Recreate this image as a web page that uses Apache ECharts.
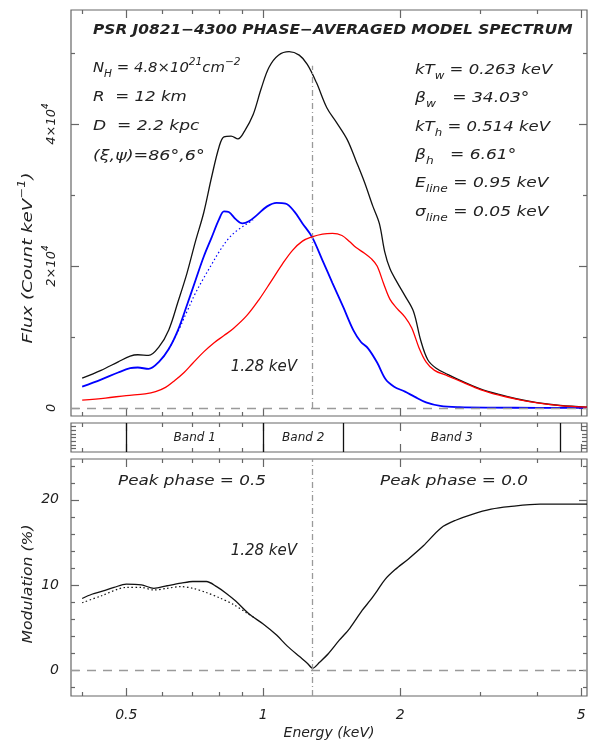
<!DOCTYPE html>
<html>
<head>
<meta charset="utf-8">
<script src="https://cdn.jsdelivr.net/npm/echarts@6/dist/echarts.min.js"></script>
<style>
  html, body { margin: 0; padding: 0; background: #fff; }
  #chart { width: 592px; height: 744px; }
</style>
</head>
<body>
<div id="chart"></div>
<script>
// ---- Model spectrum (counts keV^-1) ----
const totalEnergy = [0.40,0.44,0.48,0.51,0.53,0.56,0.59,0.62,0.65,0.68,0.71,0.74,0.77,0.80,0.82,0.85,0.88,0.91,0.95,0.99,1.03,1.08,1.14,1.20,1.25,1.31,1.38,1.45,1.53,1.60,1.67,1.74,1.80,1.85,1.90,1.97,2.05,2.14,2.22,2.30,2.40,2.55,2.75,3.0,3.3,3.6,4.0,4.5,5.15];
const totalFlux   = [4200,5300,6500,7300,7500,7400,8600,11000,15000,19000,23500,27500,32500,36800,38200,38300,37900,39000,41300,45000,48000,49700,50200,49700,48400,45800,42300,40200,37800,34800,31800,28500,26000,22000,19600,17700,15800,13600,9500,6800,5600,4700,3700,2700,1900,1300,750,350,120];

// warm cap, with the 0.95 keV line
const warmEnergy = [0.40,0.44,0.48,0.51,0.53,0.56,0.59,0.62,0.65,0.68,0.71,0.74,0.77,0.80,0.82,0.84,0.87,0.90,0.93,0.97,1.02,1.07,1.12,1.17,1.22,1.28,1.35,1.42,1.50,1.58,1.64,1.70,1.78,1.86,1.94,2.05,2.15,2.28,2.45,2.7,3.2,4.0,5.15];
const warmFlux   = [3000,4000,5000,5600,5700,5500,6500,8300,11000,14500,18000,21300,24000,26600,27700,27600,26600,26000,26300,27200,28400,28900,28800,27700,26000,24100,20800,17600,14200,10900,9300,8400,6400,4000,3000,2300,1600,800,300,120,50,20,10];

// warm cap, continuum only
const warmContEnergy = [0.62,0.65,0.68,0.71,0.74,0.77,0.80,0.84,0.88,0.92,0.95];
const warmContFlux   = [8300,10800,13600,16200,18300,20200,22000,23900,25100,25900,26500];

// hot cap
const hotEnergy = [0.40,0.45,0.50,0.55,0.58,0.61,0.64,0.67,0.70,0.74,0.78,0.82,0.86,0.92,0.98,1.04,1.10,1.16,1.22,1.28,1.35,1.42,1.49,1.55,1.60,1.67,1.73,1.78,1.84,1.90,1.97,2.05,2.12,2.20,2.28,2.38,2.55,2.75,3.0,3.3,3.6,4.0,4.5,5.15];
const hotFlux   = [1100,1400,1750,2000,2300,2900,3900,5000,6300,7900,9200,10200,11200,13000,15300,17800,20200,22200,23500,24100,24500,24600,24300,23400,22600,21800,21000,20000,17500,15300,14000,12800,11300,8500,6500,5300,4500,3600,2600,1800,1250,720,340,110];

// ---- Pulsed modulation (%) ----
const modEnergy = [0.40,0.42,0.445,0.47,0.50,0.54,0.575,0.615,0.66,0.70,0.75,0.79,0.83,0.87,0.93,1.0,1.07,1.13,1.20,1.25,1.285,1.33,1.39,1.47,1.55,1.65,1.72,1.78,1.85,1.95,2.08,2.25,2.46,2.65,2.88,3.17,3.47,4.06,4.6,5.15];
const modValue  = [8.4,8.9,9.3,9.7,10.1,10.0,9.6,9.9,10.2,10.4,10.4,9.8,9.0,8.1,6.6,5.4,4.1,2.8,1.6,0.8,0.2,0.9,1.9,3.5,4.9,7.0,8.2,9.3,10.6,11.8,13.0,14.6,16.7,17.6,18.3,18.9,19.2,19.5,19.5,19.5];
const modContEnergy = [0.40,0.44,0.50,0.54,0.575,0.615,0.66,0.70,0.75,0.80,0.86,0.92,0.96];
const modContValue  = [7.9,8.7,9.7,9.7,9.4,9.6,9.8,9.6,9.1,8.5,7.7,6.7,6.1];

// ---- Energy bands ----
const bandEdges = [0.5, 1.0, 1.5, 4.5];
const bandNames = ['Band 1', 'Band 2', 'Band 3'];

// ---- Axis ticks ----
const energyRange = [0.378, 5.15];
const energyMajorTicks = [0.5, 1, 2, 5];
const energyMinorTicks = [0.4, 0.6, 0.7, 0.8, 0.9, 3, 4];
const fluxRange = [-1130, 56060];
const fluxMajorTicks = [0, 20000, 40000];
const fluxMinorTicks = [10000, 30000, 50000];
const modRange = [-3.06, 24.8];
const modMajorTicks = [0, 10, 20];
const modMinorTicks = [-2, 2, 4, 6, 8, 12, 14, 16, 18, 22, 24];
const stripTicks = [0.12, 0.25, 0.38, 0.50, 0.62, 0.75, 0.88];
const lineEnergy = 1.28;

const zip = (xs, ys) => xs.map((x, i) => [x, ys[i]]);
const lg = Math.log10;

const FF = 'DejaVu Sans';
const INK = '#222';
const FRAME = '#666';

function richSet(size, colorKey, weight) {
  const base = { fontFamily: FF, fontStyle: 'italic', fontWeight: weight || 'normal' };
  base[colorKey] = INK;
  const small = Math.round(size * 0.68);
  return {
    n:  Object.assign({}, base, { fontSize: size, lineHeight: size + 8, verticalAlign: 'middle' }),
    sb: Object.assign({}, base, { fontSize: small, lineHeight: small, verticalAlign: 'bottom' }),
    sp: Object.assign({}, base, { fontSize: small, lineHeight: small, verticalAlign: 'top' })
  };
}

const grids = [
  { left: 71, right: 5, top: 10, height: 406 },
  { left: 71, right: 5, top: 423, height: 29 },
  { left: 71, right: 5, top: 459, height: 237 }
].map(g => Object.assign(g, { show: true, borderColor: FRAME, borderWidth: 1.2, backgroundColor: 'transparent' }));

const xAxes = [];
const yAxes = [];
const dataX = [];   // index of the log energy axis in each grid
const dataY = [];
const hiddenLine = { show: false, onZero: false };

function energyLabel(v) {
  return String(+Math.pow(10, v).toPrecision(2));
}

function addEnergyAxes(g, withLabels) {
  dataX[g] = xAxes.length;
  xAxes.push({ gridIndex: g, type: 'log', logBase: 10, min: energyRange[0], max: energyRange[1],
               show: false, axisLine: hiddenLine });
  const base = { gridIndex: g, type: 'value', min: lg(energyRange[0]), max: lg(energyRange[1]),
                 splitLine: { show: false }, axisLine: hiddenLine };
  ['bottom', 'top'].forEach(pos => {
    xAxes.push(Object.assign({}, base, {
      position: pos,
      axisTick: { inside: true, length: 8, customValues: energyMajorTicks.map(lg), lineStyle: { color: FRAME, width: 1.2 } },
      axisLabel: (withLabels && pos === 'bottom') ? {
        show: true, customValues: energyMajorTicks.map(lg), formatter: energyLabel, margin: 12,
        fontFamily: FF, fontStyle: 'italic', fontSize: 14, color: INK
      } : { show: false }
    }));
    xAxes.push(Object.assign({}, base, {
      position: pos,
      axisTick: { inside: true, length: 4, customValues: energyMinorTicks.map(lg), lineStyle: { color: FRAME, width: 1.2 } },
      axisLabel: { show: false }
    }));
  });
}

function addValueAxes(g, range, major, minor, label, majorLen, minorLen) {
  dataY[g] = yAxes.length;
  const base = { gridIndex: g, type: 'value', min: range[0], max: range[1],
                 splitLine: { show: false }, axisLine: hiddenLine };
  ['left', 'right'].forEach(pos => {
    yAxes.push(Object.assign({}, base, {
      position: pos,
      axisTick: { inside: true, length: majorLen, customValues: major, lineStyle: { color: FRAME, width: 1.2 } },
      axisLabel: (label && pos === 'left') ? Object.assign({ show: true, customValues: major }, label) : { show: false }
    }));
    yAxes.push(Object.assign({}, base, {
      position: pos,
      axisTick: { show: minor.length > 0, inside: true, length: minorLen, customValues: minor.length ? minor : [range[0]],
                  lineStyle: { color: FRAME, width: 1.2 } },
      axisLabel: { show: false }
    }));
  });
}

addEnergyAxes(0, false);
addEnergyAxes(1, false);
addEnergyAxes(2, true);

addValueAxes(0, fluxRange, fluxMajorTicks, fluxMinorTicks, {
  rotate: 90, margin: 9,
  fontFamily: FF, fontStyle: 'italic', fontSize: 13, color: INK,
  formatter: v => v === 0 ? '{n|0}' : '{n|' + (v / 1e4) + '×10}{sp|4}',
  rich: richSet(13, 'color')
}, 8, 4);
addValueAxes(1, [0, 1], stripTicks, [], null, 5, 3);
addValueAxes(2, modRange, modMajorTicks, modMinorTicks, {
  margin: 12, fontFamily: FF, fontStyle: 'italic', fontSize: 14, color: INK
}, 8, 4);

const guide = { color: '#9a9a9a', width: 1.3 };
const noteFont = { fontFamily: FF, fontStyle: 'italic', fontSize: 15, color: INK };

const series = [
  {
    name: 'Total', type: 'line', xAxisIndex: dataX[0], yAxisIndex: dataY[0],
    data: zip(totalEnergy, totalFlux), showSymbol: false, smooth: 0.35,
    lineStyle: { color: '#111', width: 1.3 }, z: 3,
    markLine: {
      silent: true, symbol: 'none', label: { show: false },
      data: [
        { yAxis: 0, lineStyle: Object.assign({ type: [9, 7] }, guide) },
        [ { coord: [lineEnergy, 0], lineStyle: Object.assign({ type: [6, 3, 1, 3] }, guide) },
          { coord: [lineEnergy, 48200] } ]
      ]
    },
    markPoint: {
      silent: true, symbol: 'circle', symbolSize: 0,
      data: [{ coord: [lineEnergy, 5800] }],
      label: Object.assign({ show: true, position: 'left', distance: 15, formatter: '1.28 keV' }, noteFont)
    }
  },
  {
    name: 'Warm cap', type: 'line', xAxisIndex: dataX[0], yAxisIndex: dataY[0],
    data: zip(warmEnergy, warmFlux), showSymbol: false, smooth: 0.35,
    lineStyle: { color: '#0000ff', width: 1.8 }, z: 4
  },
  {
    name: 'Warm cap (continuum)', type: 'line', xAxisIndex: dataX[0], yAxisIndex: dataY[0],
    data: zip(warmContEnergy, warmContFlux), showSymbol: false, smooth: 0.35,
    lineStyle: { color: '#0000ff', width: 1.2, type: [1.5, 2.5] }, z: 4
  },
  {
    name: 'Hot cap', type: 'line', xAxisIndex: dataX[0], yAxisIndex: dataY[0],
    data: zip(hotEnergy, hotFlux), showSymbol: false, smooth: 0.35,
    lineStyle: { color: '#ff0000', width: 1.3 }, z: 5
  },
  {
    name: 'Bands', type: 'scatter', xAxisIndex: dataX[1], yAxisIndex: dataY[1], data: [],
    markLine: {
      silent: true, symbol: 'none', label: { show: false },
      lineStyle: { color: '#111', width: 1.3, type: 'solid' },
      data: bandEdges.map(e => ({ xAxis: e }))
    },
    markArea: {
      silent: true, itemStyle: { color: 'rgba(0,0,0,0)' },
      label: { show: true, position: 'inside', fontFamily: FF, fontStyle: 'italic', fontSize: 12, color: INK },
      data: bandNames.map((name, i) => [{ xAxis: bandEdges[i], name: name }, { xAxis: bandEdges[i + 1] }])
    }
  },
  {
    name: 'Modulation', type: 'line', xAxisIndex: dataX[2], yAxisIndex: dataY[2],
    data: zip(modEnergy, modValue), showSymbol: false, smooth: 0.3,
    lineStyle: { color: '#111', width: 1.3 }, z: 4,
    markLine: {
      silent: true, symbol: 'none', label: { show: false },
      data: [
        { yAxis: 0, lineStyle: Object.assign({ type: [9, 7] }, guide) },
        { xAxis: lineEnergy, lineStyle: Object.assign({ type: [6, 3, 1, 3] }, guide) }
      ]
    },
    markPoint: {
      silent: true, symbol: 'circle', symbolSize: 0,
      data: [{ coord: [lineEnergy, 14] }],
      label: Object.assign({ show: true, position: 'left', distance: 15, formatter: '1.28 keV' }, noteFont)
    }
  },
  {
    name: 'Modulation (continuum)', type: 'line', xAxisIndex: dataX[2], yAxisIndex: dataY[2],
    data: zip(modContEnergy, modContValue), showSymbol: false, smooth: 0.3,
    lineStyle: { color: '#111', width: 1.2, type: [1.5, 2.5] }, z: 4
  }
];

// free text: the wide plotter lettering is imitated by stretching along the baseline
function label(text, x, y, size, stretch, opts) {
  const o = opts || {};
  return {
    type: 'text', x: x, y: y, silent: true, z: 10,
    scaleX: stretch, rotation: o.rotation || 0,
    style: {
      text: text, x: 0, y: 0,
      fontFamily: FF, fontStyle: 'italic', fontWeight: o.weight || 'normal', fontSize: size, fill: INK,
      align: o.align || 'left', verticalAlign: 'middle', rich: richSet(size, 'fill', o.weight)
    }
  };
}

const P = 14;
const C = { align: 'center' };
const graphics = [
  label('{n|PSR J0821−4300 PHASE−AVERAGED MODEL SPECTRUM}', 93, 30, 14, 1.10, { weight: 'bold' }),
  label('{n|N}{sb|H}{n| = 4.8×10}{sp|21}{n|cm}{sp|−2}', 93, 68, P, 1.06),
  label('{n|R  = 12 km}', 93, 97, P, 1.19),
  label('{n|D  = 2.2 kpc}', 93, 126, P, 1.22),
  label('{n|(ξ,ψ)=86°,6°}', 93, 156, P, 1.25),
  label('{n|kT}{sb|w}{n| = 0.263 keV}', 415, 70, P, 1.18),
  label('{n|β}{sb|w}{n|   = 34.03°}', 415, 98, P, 1.22),
  label('{n|kT}{sb|h}{n| = 0.514 keV}', 415, 127, P, 1.18),
  label('{n|β}{sb|h}{n|   = 6.61°}', 415, 155, P, 1.22),
  label('{n|E}{sb|line}{n| = 0.95 keV}', 415, 183, P, 1.22),
  label('{n|σ}{sb|line}{n| = 0.05 keV}', 415, 212, P, 1.22),
  label('{n|Peak phase = 0.5}', 192, 481, P, 1.2, C),
  label('{n|Peak phase = 0.0}', 454, 481, P, 1.2, C),
  label('{n|Flux (Count keV}{sp|−1}{n|)}', 28, 258, P, 1.3, { align: 'center', rotation: Math.PI / 2 }),
  label('{n|Modulation (%)}', 28, 584, P, 1.12, { align: 'center', rotation: Math.PI / 2 }),
  label('{n|Energy (keV)}', 329, 733, P, 1.0, C)
];

const chart = echarts.init(document.getElementById('chart'), null, { renderer: 'canvas' });
chart.setOption({
  animation: false,
  backgroundColor: '#fff',
  grid: grids,
  xAxis: xAxes,
  yAxis: yAxes,
  series: series,
  graphic: graphics
});
</script>
</body>
</html>
